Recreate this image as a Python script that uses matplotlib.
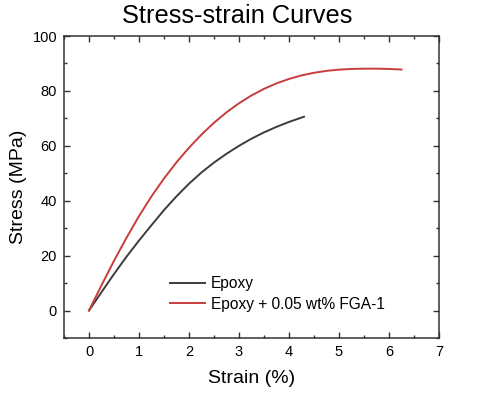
import matplotlib
matplotlib.use("Agg")
import matplotlib.pyplot as plt
from matplotlib.ticker import MultipleLocator

plt.rcParams['font.family'] = ['Liberation Sans', 'DejaVu Sans']

# Data
epoxy_strain = [0, 0.25, 0.5, 0.75, 1.0, 1.25, 1.5, 1.75, 2.0, 2.25, 2.5, 2.75,
                3.0, 3.25, 3.5, 3.75, 4.0, 4.3]
epoxy_stress = [0, 6.7, 13.3, 19.6, 25.5, 31.1, 36.6, 41.6, 46.2, 50.3, 53.9, 57.1,
                60.0, 62.6, 64.9, 66.9, 68.7, 70.6]

fga_strain = [0, 0.25, 0.5, 0.75, 1.0, 1.25, 1.5, 1.75, 2.0, 2.25, 2.5, 2.75,
              3.0, 3.25, 3.5, 3.75, 4.0, 4.25, 4.5, 4.75, 5.0, 5.25, 5.5, 5.75,
              6.0, 6.25]
fga_stress = [0, 9.2, 18.1, 26.5, 34.4, 41.6, 48.1, 54.0, 59.3, 64.1, 68.4, 72.2,
              75.5, 78.35, 80.75, 82.75, 84.35, 85.65, 86.6, 87.3, 87.75, 88.0, 88.1, 88.1,
              88.0, 87.8]

labels = ["Epoxy", "Epoxy + 0.05 wt% FGA-1"]
title = "Stress-strain Curves"
xlabel = "Strain (%)"
ylabel = "Stress (MPa)"

fig = plt.figure(figsize=(4.87, 3.95), dpi=100)
ax = fig.add_axes([64/487, 1-338/395, 375/487, 302/395])

ax.plot(epoxy_strain, epoxy_stress, color='#3c3c3c', lw=1.4, label=labels[0])
ax.plot(fga_strain, fga_stress, color='#c83c3c', lw=1.4, label=labels[1])

ax.set_xlim(-0.5, 7)
ax.set_ylim(-10, 100)
ax.xaxis.set_major_locator(MultipleLocator(1))
ax.xaxis.set_minor_locator(MultipleLocator(0.5))
ax.yaxis.set_major_locator(MultipleLocator(20))
ax.yaxis.set_minor_locator(MultipleLocator(10))

spine_color = '#333333'
for s in ax.spines.values():
    s.set_linewidth(1.1)
    s.set_color(spine_color)
ax.tick_params(which='both', direction='in', top=True, right=True,
               color=spine_color, width=1.0)
ax.tick_params(which='major', length=4.3, labelsize=10.5, pad=5)
ax.tick_params(which='minor', length=2.2)
ax.tick_params(axis='x', which='major', labeltop=False)

ax.set_xlabel(xlabel, fontsize=14, labelpad=8)
ax.set_ylabel(ylabel, fontsize=14, labelpad=4)

fig.text(237/487, 1-23/395, title, fontsize=18.3, ha='center', va='baseline')

leg = ax.legend(loc='center left', bbox_to_anchor=(0.283, 0.146), frameon=False,
                fontsize=11.2, handlelength=2.25, handletextpad=0.35,
                labelspacing=0.35, borderpad=0, borderaxespad=0)

fig.savefig("out.png", dpi=100)
